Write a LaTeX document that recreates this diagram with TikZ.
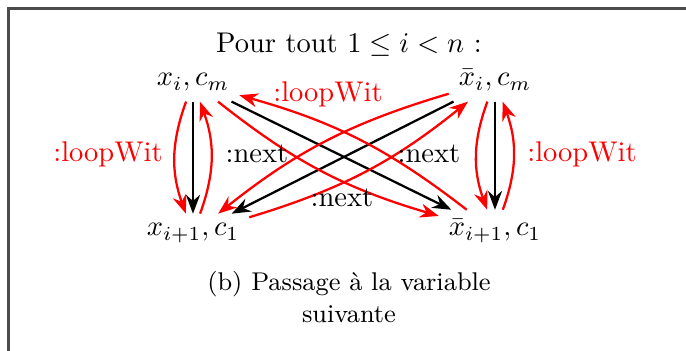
\documentclass[tikz,border=0pt]{standalone}
\usetikzlibrary{arrows.meta}
\begin{document}
\begin{tikzpicture}[
  x=0.351pt, y=0.351pt,
  state/.style={anchor=base},
  arr/.style={-Stealth, thick},
  wit/.style={arr, red, bend right=20},
  lbl/.style={anchor=base}
]
\useasboundingbox (0,0) rectangle (686,351);
% cadre
\draw[black!70, line width=0.8pt] (8.5,-10) |- (700,342.5);
\node[anchor=base] (titre) at (349,298) {Pour tout $1 \leq i < n$ :};
% les quatre sommets
\node[state] (xi) at (193,265) {$x_i, c_m$};
\node[state] (nxi) at (495,265) {$\bar{x}_i, c_m$};
\node[state] (xj) at (193,115) {$x_{i+1}, c_1$};
\node[state] (nxj) at (495,115) {$\bar{x}_{i+1}, c_1$};
% verticales
\draw[arr] (xi) -- (xj);
\draw[wit] (xi) to (xj);
\draw[wit] (xj) to (xi);
\draw[arr] (nxi) -- (nxj);
\draw[wit] (nxi) to (nxj);
\draw[wit] (nxj) to (nxi);
% croisees
\draw[arr] (xi) -- (nxj);
\draw[arr] (nxi) -- (xj);
\draw[wit, bend right=11] (xi) to (nxj);
\draw[wit, bend right=11] (nxj) to (xi);
\draw[wit, bend right=11] (nxi) to (xj);
\draw[wit, bend right=11] (xj) to (nxi);
% etiquettes
\node[lbl, red] (wg) at (108,189) {:loopWit};
\node[lbl, red] (wd) at (582,189) {:loopWit};
\node[lbl, red] (wh) at (328,249) {:loopWit};
\node[lbl] (ng) at (257,188) {:next};
\node[lbl] (nd) at (429,188) {:next};
\node[lbl] (nb) at (342,144) {:next};
\node[align=center, font=\small, inner sep=0pt] (legende) at (349,54) {(b) Passage \`a la variable\\suivante};
\end{tikzpicture}
\end{document}
